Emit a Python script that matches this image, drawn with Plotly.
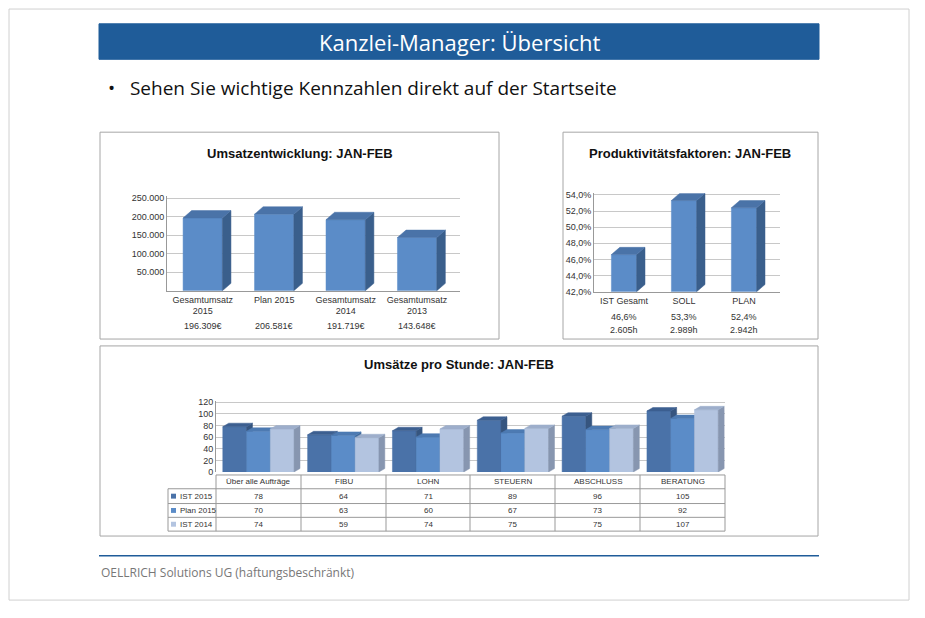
import plotly.graph_objects as go

W, H = 909, 602
OFF = 8
def px(x): return (x - OFF) / W
def py(y): return 1 - (y - OFF) / H

# ---- data ----
c1_cats = ["Gesamtumsatz<br>2015", "Plan 2015", "Gesamtumsatz<br>2014", "Gesamtumsatz<br>2013"]
c1_vals = [196309, 206581, 191719, 143648]
c1_labels = ["196.309€", "206.581€", "191.719€", "143.648€"]

c2_cats = ["IST Gesamt", "SOLL", "PLAN"]
c2_vals = [46.6, 53.3, 52.4]
c2_pct = ["46,6%", "53,3%", "52,4%"]
c2_hours = ["2.605h", "2.989h", "2.942h"]

c3_cats = ["Über alle Aufträge", "FIBU", "LOHN", "STEUERN", "ABSCHLUSS", "BERATUNG"]
c3_series = ["IST 2015", "Plan 2015", "IST 2014"]
c3_ist2015 = [78, 64, 71, 89, 96, 105]
c3_plan2015 = [70, 63, 60, 67, 73, 92]
c3_ist2014 = [74, 59, 74, 75, 75, 107]

fig = go.Figure()

def add3d(xs, vals, width, dx, dy, base, cols, xa, ya):
    front, side, top = cols
    for x, v in zip(xs, vals):
        l, r = x - width / 2, x + width / 2
        faces = [
            ([l, r, r, l, l], [base, base, v, v, base], front),
            ([r, r + dx, r + dx, r, r], [base, base + dy, v + dy, v, base], side),
            ([l, r, r + dx, l + dx, l], [v, v, v + dy, v + dy, v], top),
        ]
        for fx, fy, c in faces:
            fig.add_trace(go.Scatter(x=fx, y=fy, fill="toself", fillcolor=c, mode="lines",
                                     line=dict(width=0.5, color=c), xaxis=xa, yaxis=ya,
                                     hoverinfo="skip", showlegend=False))

grid = "#C8C8C8"
tf = dict(family="Liberation Sans", size=9, color="#333")

add3d(list(range(4)), c1_vals, 0.55, 0.12, 20000, 0, ("#5B8CC8", "#3A5F8C", "#4A73A8"), "x", "y")
add3d(list(range(3)), c2_vals, 0.42, 0.14, 0.9, 42, ("#5B8CC8", "#3A5F8C", "#4A73A8"), "x2", "y2")
cols3 = [("#4A72A8", "#36557F", "#3C5F90"), ("#5B8CC8", "#3F6A9C", "#4D7AB2"), ("#B3C4E0", "#8796B0", "#9DAECB")]
offs = [-0.28, 0.0, 0.28]
for s, (vals, cc) in enumerate(zip([c3_ist2015, c3_plan2015, c3_ist2014], cols3)):
    add3d([i + offs[s] for i in range(6)], vals, 0.28, 0.07, 6, 0, cc, "x3", "y3")

fig.update_layout(
    width=W, height=H, margin=dict(l=0, r=0, t=0, b=0),
    paper_bgcolor="white", plot_bgcolor="rgba(0,0,0,0)", showlegend=False,
    font=dict(family="Liberation Sans"),
    xaxis=dict(domain=[px(167), px(460)], range=[-0.5, 3.6], tickvals=list(range(4)), ticktext=c1_cats,
               tickfont=tf, showgrid=False, zeroline=False, showline=True, linecolor="#999", anchor="y"),
    yaxis=dict(domain=[py(291), py(195)], range=[0, 255000], tickvals=[50000, 100000, 150000, 200000, 250000],
               ticktext=["50.000", "100.000", "150.000", "200.000", "250.000"], tickfont=tf,
               gridcolor=grid, zeroline=False, showline=True, linecolor="#999", anchor="x"),
    xaxis2=dict(domain=[px(594), px(780)], range=[-0.5, 2.6], tickvals=list(range(3)), ticktext=c2_cats,
                tickfont=tf, showgrid=False, zeroline=False, showline=True, linecolor="#999", anchor="y2"),
    yaxis2=dict(domain=[py(292), py(192)], range=[42, 54.2], tickvals=[42, 44, 46, 48, 50, 52, 54],
                ticktext=["42,0%", "44,0%", "46,0%", "48,0%", "50,0%", "52,0%", "54,0%"], tickfont=tf,
                gridcolor=grid, zeroline=False, showline=True, linecolor="#999", anchor="x2"),
    xaxis3=dict(domain=[px(216), px(725)], range=[-0.5, 5.5], showticklabels=False, showgrid=False,
                zeroline=False, anchor="y3"),
    yaxis3=dict(domain=[py(475), py(403)], range=[0, 122], tickvals=[0, 20, 40, 60, 80, 100, 120], tickfont=tf,
                gridcolor=grid, zeroline=False, showline=True, linecolor="#999", anchor="x3"),
)

shapes = []
def rect(x0, y0, x1, y1, line="#A6A6A6", fill=None, w=1):
    shapes.append(dict(type="rect", xref="paper", yref="paper", x0=px(x0), x1=px(x1), y0=py(y1), y1=py(y0),
                       line=dict(color=line, width=w), fillcolor=fill, layer="below"))
def line(x0, y0, x1, y1, c="#A6A6A6", w=1):
    shapes.append(dict(type="line", xref="paper", yref="paper", x0=px(x0), x1=px(x1), y0=py(y0), y1=py(y1),
                       line=dict(color=c, width=w)))

rect(9, 5, 909, 605, line="#D0D0D0")
rect(99, 20, 819, 56, line="#1F5C99", fill="#1F5C99")
rect(100, 130, 499, 340)
rect(563, 130, 818, 340)
rect(100, 347, 818, 540)
line(99, 560, 819, 560, "#1F5C99", 1.5)

bounds = [168, 216, 301, 386, 470, 555, 640, 725]
rows = [478, 492, 507, 521, 535]
for yy in rows[1:]:
    line(168, yy, 725, yy, "#999")
line(216, rows[0], 725, rows[0], "#999")
for i, xx in enumerate(bounds):
    line(xx, rows[0] if i > 0 else rows[1], xx, rows[-1], "#999")

ann = []
def text(x, y, s, size=9, color="#333", xa="center", bold=False, fam="Liberation Sans"):
    ann.append(dict(x=px(x), y=py(y), xref="paper", yref="paper", text=f"<b>{s}</b>" if bold else s,
                    showarrow=False, xanchor=xa, yanchor="middle", font=dict(size=size, color=color, family=fam)))

text(459, 38, "Kanzlei-Manager: Übersicht", 22, "white", fam="Open Sans")
text(106, 85, "•   Sehen Sie wichtige Kennzahlen direkt auf der Startseite", 19, "#111", "left", fam="Open Sans")
text(300, 152, "Umsatzentwicklung: JAN-FEB", 13, "#111", bold=True)
text(690, 152, "Produktivitätsfaktoren: JAN-FEB", 13, "#111", bold=True)
text(459, 366, "Umsätze pro Stunde: JAN-FEB", 13, "#111", bold=True)
text(99, 577, "OELLRICH Solutions UG (haftungsbeschränkt)", 12, "#777", "left", fam="Open Sans")

c1x = [167 + (i + 0.5) / 4.1 * 293 for i in range(4)]
for x, s in zip(c1x, c1_labels):
    text(x, 327, s)
c2x = [594 + (i + 0.5) / 3.1 * 186 for i in range(3)]
for x, a, b in zip(c2x, c2_pct, c2_hours):
    text(x, 318, a)
    text(x, 331, b)

for i, c in enumerate(c3_cats):
    text((bounds[i + 1] + bounds[i + 2]) / 2, 485, c, 8)
legcols = ["#4A72A8", "#5B8CC8", "#B3C4E0"]
for r, (name, vals) in enumerate(zip(c3_series, [c3_ist2015, c3_plan2015, c3_ist2014])):
    yc = (rows[r + 1] + rows[r + 2]) / 2
    shapes.append(dict(type="rect", xref="paper", yref="paper", x0=px(171), x1=px(176), y0=py(yc + 2.5),
                       y1=py(yc - 2.5), fillcolor=legcols[r], line=dict(width=0)))
    text(178, yc, name, 8, xa="left")
    for i, v in enumerate(vals):
        text((bounds[i + 1] + bounds[i + 2]) / 2, yc, str(v), 8)

fig.update_layout(shapes=shapes, annotations=ann)
fig.write_html("out.html")
